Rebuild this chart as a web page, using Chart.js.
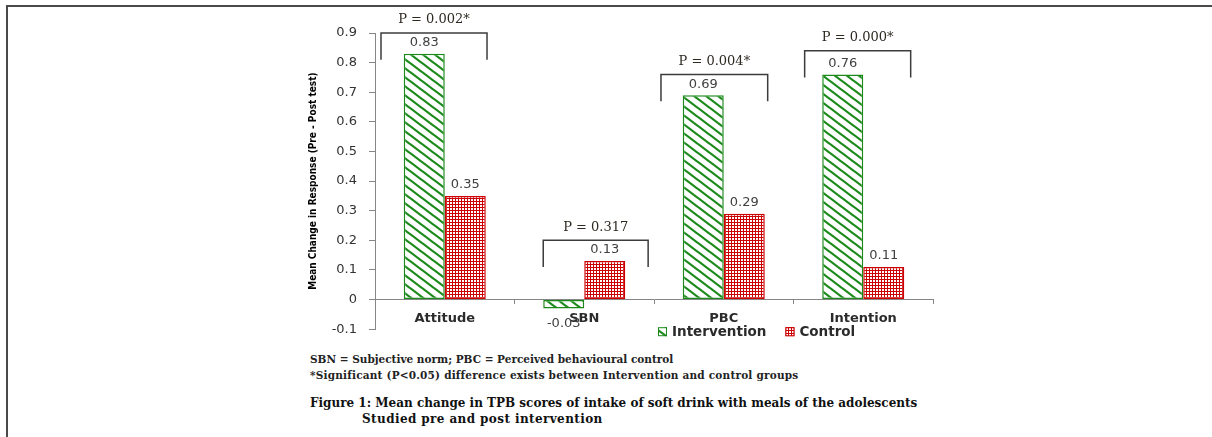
<!DOCTYPE html>
<html>
<head>
<meta charset="utf-8">
<script src="https://cdn.jsdelivr.net/npm/chart.js@4.4.0/dist/chart.umd.min.js"></script>
<style>
html, body { margin: 0; padding: 0; background: #fff; }
body { width: 1212px; height: 437px; position: relative; overflow: hidden; }
#frame { position: absolute; left: 6px; top: 5px; right: 0; bottom: 0; border-top: 2px solid #4a4a4a; border-left: 2px solid #4a4a4a; }
#wrap { position: absolute; left: 290px; top: 0; width: 660px; height: 349px; }
.note { position: absolute; left: 310px; font-family: 'DejaVu Serif', serif; font-weight: bold; color: #222; white-space: nowrap; line-height: 14px; }
.small { font-size: 10.5px; }
.fig { font-size: 12px; color: #111; }
</style>
</head>
<body>
<div id="frame"></div>
<div id="wrap"><canvas id="chart"></canvas></div>
<div class="note small" style="top:352px">SBN = Subjective norm; PBC = Perceived behavioural control</div>
<div class="note small" style="top:368px; letter-spacing:0.2px">*Significant (P&lt;0.05) difference exists between Intervention and control groups</div>
<div class="note fig" style="top:396px">Figure 1: Mean change in TPB scores of intake of soft drink with meals of the adolescents</div>
<div class="note fig" style="top:412px; left:362px; letter-spacing:0.4px">Studied pre and post intervention</div>

<script>
const categories = ['Attitude', 'SBN', 'PBC', 'Intention'];
const interventionValues = [0.83, -0.03, 0.69, 0.76];
const controlValues = [0.35, 0.13, 0.29, 0.11];
const valueLabels = [['0.83', '-0.03', '0.69', '0.76'], ['0.35', '0.13', '0.29', '0.11']];
const pValueLabels = ['P = 0.002*', 'P = 0.317', 'P = 0.004*', 'P = 0.000*'];
const yTickLabels = ['-0.1', '0', '0.1', '0.2', '0.3', '0.4', '0.5', '0.6', '0.7', '0.8', '0.9'];

// bracket geometry: x offsets in category widths, y in data units
const bracketSpans = [
  { from: -0.457, to: 0.303, top: 0.9, leg: 0.81 },
  { from: -0.294, to: 0.458, top: 0.2, leg: 0.11 },
  { from: -0.45, to: 0.315, top: 0.76, leg: 0.67 },
  { from: -0.42, to: 0.34, top: 0.84, leg: 0.75 }
];

const GREEN = '#1b8a1b';
const RED = '#cc0000';
const AXIS = '#868686';

/* fill patterns */
function hatchPattern() {
  const c = document.createElement('canvas');
  c.width = 12; c.height = 9;
  const g = c.getContext('2d');
  g.fillStyle = '#fff';
  g.fillRect(0, 0, 12, 9);
  g.strokeStyle = GREEN;
  g.lineWidth = 2.2;
  for (const dx of [-12, 0, 12]) {
    g.beginPath();
    g.moveTo(dx - 12, -9);
    g.lineTo(dx + 24, 18);
    g.stroke();
  }
  return g.createPattern(c, 'repeat');
}

function checkerPattern() {
  const c = document.createElement('canvas');
  c.width = 3; c.height = 3;
  const g = c.getContext('2d');
  g.fillStyle = RED;
  g.fillRect(0, 0, 3, 3);
  g.fillStyle = '#fff';
  g.fillRect(1, 1, 2, 2);
  return g.createPattern(c, 'repeat');
}

const greenFill = hatchPattern();
const redFill = checkerPattern();

/* numbers over / under bars */
const barValuePlugin = {
  id: 'barValues',
  afterDatasetsDraw(chart) {
    const ctx = chart.ctx;
    ctx.save();
    ctx.font = '13px "DejaVu Sans"';
    ctx.fillStyle = '#404040';
    ctx.textAlign = 'center';
    ctx.textBaseline = 'middle';
    chart.data.datasets.forEach((ds, di) => {
      chart.getDatasetMeta(di).data.forEach((bar, i) => {
        const v = ds.data[i];
        const y = v >= 0 ? bar.y - 11 : bar.y + 15;
        ctx.fillText(valueLabels[di][i], bar.x, y);
      });
    });
    ctx.restore();
  }
};

/* P-value brackets */
const bracketPlugin = {
  id: 'brackets',
  afterDatasetsDraw(chart) {
    const ctx = chart.ctx;
    const xs = chart.scales.x, ys = chart.scales.y;
    const cw = xs.width / categories.length;
    ctx.save();
    ctx.strokeStyle = '#3c3c3c';
    ctx.lineWidth = 1.5;
    ctx.font = '13px "DejaVu Serif"';
    ctx.fillStyle = '#2e2a22';
    ctx.textAlign = 'center';
    ctx.textBaseline = 'middle';
    bracketSpans.forEach((b, i) => {
      const cx = xs.getPixelForValue(i);
      const x1 = cx + b.from * cw, x2 = cx + b.to * cw;
      const yt = ys.getPixelForValue(b.top), yl = ys.getPixelForValue(b.leg);
      ctx.beginPath();
      ctx.moveTo(x1, yl);
      ctx.lineTo(x1, yt);
      ctx.lineTo(x2, yt);
      ctx.lineTo(x2, yl);
      ctx.stroke();
      ctx.fillText(pValueLabels[i], (x1 + x2) / 2, yt - 13);
    });
    ctx.restore();
  }
};

/* legend with pattern swatches under the axis */
const legendPlugin = {
  id: 'patternLegend',
  afterDraw(chart) {
    const ctx = chart.ctx;
    const area = chart.chartArea;
    const y = area.bottom + 3;
    let x = area.left + 283;
    ctx.save();
    ctx.font = 'bold 13.5px "DejaVu Sans"';
    ctx.textBaseline = 'middle';
    chart.data.datasets.forEach(ds => {
      ctx.fillStyle = ds.backgroundColor;
      ctx.fillRect(x, y - 5, 9, 9);
      ctx.strokeStyle = ds.borderColor;
      ctx.lineWidth = 1;
      ctx.strokeRect(x + 0.5, y - 4.5, 8, 8);
      ctx.fillStyle = '#2b2b2b';
      ctx.fillText(ds.label, x + 14, y);
      x += 14 + ctx.measureText(ds.label).width + 19;
    });
    ctx.restore();
  }
};

new Chart(document.getElementById('chart').getContext('2d'), {
  type: 'bar',
  data: {
    labels: categories,
    datasets: [
      { label: 'Intervention', data: interventionValues, backgroundColor: greenFill, borderColor: GREEN, borderWidth: 1.5, borderSkipped: false },
      { label: 'Control', data: controlValues, backgroundColor: redFill, borderColor: RED, borderWidth: 1.5, borderSkipped: false }
    ]
  },
  options: {
    responsive: true,
    maintainAspectRatio: false,
    animation: false,
    layout: { padding: { left: 0, right: 17, top: 33, bottom: 13 } },
    datasets: { bar: { categoryPercentage: 0.588, barPercentage: 1 } },
    plugins: { legend: { display: false }, tooltip: { enabled: false } },
    scales: {
      x: {
        position: { y: 0 },
        grid: { drawOnChartArea: false, offset: true, tickLength: 4, color: AXIS },
        border: { color: AXIS },
        ticks: { font: { family: 'DejaVu Sans', size: 13, weight: 'bold' }, color: '#2b2b2b', padding: 7 }
      },
      y: {
        min: -0.1,
        max: 0.9,
        afterFit(scale) { scale.width = 85; },
        grid: { drawOnChartArea: false, tickLength: 6, color: AXIS },
        border: { color: AXIS },
        ticks: {
          stepSize: 0.1,
          padding: 12,
          color: '#333',
          font: { family: 'DejaVu Sans', size: 13 },
          callback: (v, i) => yTickLabels[i]
        },
        title: {
          display: true,
          text: 'Mean Change in Response (Pre - Post test)',
          color: '#000',
          font: { family: "'DejaVu Sans Condensed', sans-serif", size: 10, weight: 'bold' },
          padding: { top: 17, bottom: 0 }
        }
      }
    }
  },
  plugins: [barValuePlugin, bracketPlugin, legendPlugin]
});
</script>
</body>
</html>
